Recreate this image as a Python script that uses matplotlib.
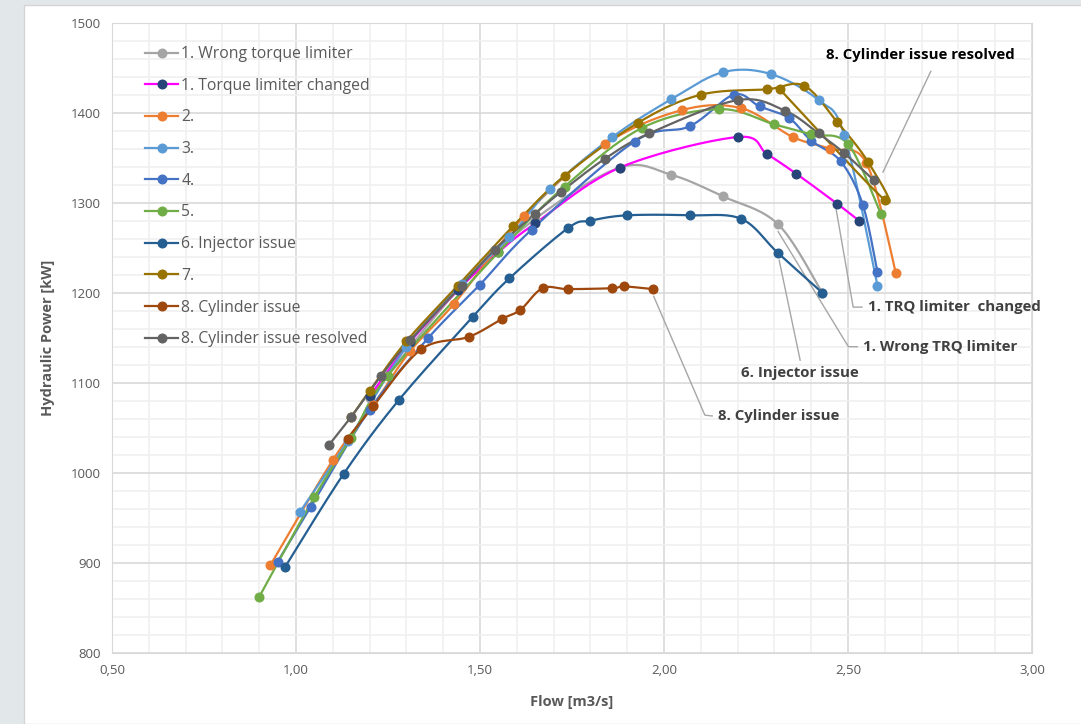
import numpy as np
import matplotlib.pyplot as plt
from matplotlib.lines import Line2D
from matplotlib.patches import Rectangle
from matplotlib.ticker import MultipleLocator, FuncFormatter

plt.rcParams['font.family'] = ['Open Sans', 'DejaVu Sans']

# data
wrong_x = [1.20, 1.44, 1.65, 1.88, 2.02, 2.16, 2.31, 2.43]
wrong_y = [1083, 1203, 1282, 1339, 1331, 1307, 1276, 1200]

changed_x = [1.20, 1.31, 1.44, 1.55, 1.65, 1.88, 2.20, 2.28, 2.36, 2.47, 2.53]
changed_y = [1085, 1145, 1203, 1245, 1277, 1339, 1373, 1354, 1332, 1299, 1280]

s2_x = [0.93, 1.10, 1.21, 1.31, 1.43, 1.62, 1.84, 2.05, 2.21, 2.35, 2.45, 2.55, 2.63]
s2_y = [897, 1014, 1075, 1135, 1188, 1285, 1365, 1403, 1405, 1373, 1360, 1344, 1222]

s3_x = [1.01, 1.14, 1.30, 1.45, 1.58, 1.69, 1.86, 2.02, 2.16, 2.29, 2.42, 2.49, 2.58]
s3_y = [956, 1035, 1140, 1210, 1262, 1315, 1373, 1415, 1445, 1443, 1414, 1375, 1208]

s4_x = [0.95, 1.04, 1.20, 1.36, 1.50, 1.64, 1.92, 2.07, 2.19, 2.26, 2.34, 2.40, 2.48, 2.54, 2.58]
s4_y = [901, 962, 1070, 1150, 1209, 1270, 1368, 1385, 1420, 1407, 1394, 1369, 1346, 1298, 1223]

s5_x = [0.90, 1.05, 1.15, 1.25, 1.55, 1.73, 1.94, 2.15, 2.30, 2.40, 2.50, 2.59]
s5_y = [862, 973, 1039, 1108, 1245, 1318, 1383, 1404, 1387, 1376, 1365, 1287]

injector_x = [0.97, 1.13, 1.28, 1.48, 1.58, 1.74, 1.80, 1.90, 2.07, 2.21, 2.31, 2.43]
injector_y = [895, 999, 1081, 1173, 1216, 1272, 1280, 1286, 1286, 1282, 1244, 1200]

s7_x = [1.15, 1.20, 1.30, 1.44, 1.59, 1.73, 1.93, 2.10, 2.28, 2.38, 2.47, 2.555, 2.60, 2.315]
s7_y = [1062, 1091, 1146, 1208, 1274, 1330, 1389, 1420, 1426, 1430, 1390, 1345, 1303, 1426]

cyl_x = [1.14, 1.21, 1.34, 1.47, 1.56, 1.61, 1.67, 1.74, 1.86, 1.89, 1.97]
cyl_y = [1038, 1074, 1137, 1151, 1171, 1181, 1205, 1204, 1205, 1207, 1204]

resolved_x = [1.09, 1.15, 1.23, 1.31, 1.45, 1.54, 1.65, 1.72, 1.84, 1.96, 2.20, 2.33, 2.42, 2.49, 2.57]
resolved_y = [1031, 1062, 1107, 1147, 1208, 1248, 1288, 1312, 1349, 1377, 1414, 1402, 1377, 1355, 1325]

series = [
    ('1. Wrong torque limiter', wrong_x, wrong_y, '#a5a5a5', '#a5a5a5'),
    ('1. Torque limiter changed', changed_x, changed_y, '#ff00ff', '#264478'),
    ('2.', s2_x, s2_y, '#ed7d31', '#ed7d31'),
    ('3.', s3_x, s3_y, '#5b9bd5', '#5b9bd5'),
    ('4.', s4_x, s4_y, '#4472c4', '#4472c4'),
    ('5.', s5_x, s5_y, '#70ad47', '#70ad47'),
    ('6. Injector issue', injector_x, injector_y, '#255e91', '#255e91'),
    ('7.', s7_x, s7_y, '#997300', '#997300'),
    ('8. Cylinder issue', cyl_x, cyl_y, '#9e480e', '#9e480e'),
    ('8. Cylinder issue resolved', resolved_x, resolved_y, '#636363', '#636363'),
]

# callouts: text, marker point, elbow, text position
callouts = [
    ('8. Cylinder issue resolved', (2.595, 1334), (2.725, 1446), (2.697, 1464), 'center', '#000000'),
    ('1. TRQ limiter  changed', (2.468, 1292), (2.514, 1184), (2.554, 1184), 'left', '#404040'),
    ('1. Wrong TRQ limiter', (2.310, 1268), (2.501, 1140), (2.541, 1140), 'left', '#404040'),
    ('6. Injector issue', (2.313, 1236), (2.370, 1125), (2.370, 1111), 'center', '#404040'),
    ('8. Cylinder issue', (1.972, 1196), (2.111, 1064), (2.147, 1063), 'left', '#404040'),
]


def smooth(xs, ys, n=20):
    # excel-like smoothed line (bezier through the points)
    p = np.column_stack([xs, ys]).astype(float)
    out = [p[0]]
    for i in range(len(p) - 1):
        p0 = p[i - 1] if i > 0 else p[i]
        p1 = p[i]
        p2 = p[i + 1]
        p3 = p[i + 2] if i + 2 < len(p) else p[i + 1]
        c1 = p1 + (p2 - p0) / 6.0
        c2 = p2 - (p3 - p1) / 6.0
        t = np.linspace(0, 1, n)[1:, None]
        seg = ((1 - t) ** 3 * p1 + 3 * (1 - t) ** 2 * t * c1
               + 3 * (1 - t) * t ** 2 * c2 + t ** 3 * p2)
        out.extend(seg)
    out = np.array(out)
    return out[:, 0], out[:, 1]


fig = plt.figure(figsize=(10.81, 7.24), dpi=100, facecolor='#e2e7ea')
fig.patches.append(Rectangle((24 / 1081, 0), 1, 1 - 5 / 724, transform=fig.transFigure,
                             facecolor='white', edgecolor='#d4d4d4', lw=1, zorder=-1))
ax = fig.add_axes([112 / 1081, 1 - 652.7 / 724, 920 / 1081, 630 / 724])
ax.set_facecolor('white')

handles = []
for label, xs, ys, lc, mc in series:
    sx, sy = smooth(xs, ys)
    ax.plot(sx, sy, color=lc, lw=1.6, zorder=3)
    ax.plot(xs, ys, 'o', color=mc, ms=6.2, zorder=4)
    handles.append(Line2D([], [], color=lc, lw=1.6, marker='o', ms=6.2,
                          markerfacecolor=mc, markeredgecolor=mc, label=label))

for text, pt, elbow, tpos, ha, tc in callouts:
    if ha == 'left':
        ax.plot([pt[0], elbow[0], tpos[0] - 0.016], [pt[1], elbow[1], tpos[1]],
                color='#a6a6a6', lw=1, zorder=2)
    else:
        ax.plot([pt[0], elbow[0]], [pt[1], elbow[1]], color='#a6a6a6', lw=1, zorder=2)
    ax.text(tpos[0], tpos[1], text, ha=ha, va='center', fontsize=10.8,
            fontweight='bold', color=tc, zorder=5)

ax.set_xlim(0.5, 3.0)
ax.set_ylim(800, 1500)
ax.xaxis.set_major_locator(MultipleLocator(0.5))
ax.xaxis.set_minor_locator(MultipleLocator(0.1))
ax.yaxis.set_major_locator(MultipleLocator(100))
ax.yaxis.set_minor_locator(MultipleLocator(20))
ax.xaxis.set_major_formatter(FuncFormatter(lambda v, p: f'{v:.2f}'.replace('.', ',')))
ax.grid(which='major', color='#d9d9d9', lw=1.2, zorder=0)
ax.grid(which='minor', color='#f0f0f0', lw=1.2, zorder=0)
ax.set_axisbelow(True)
for s in ax.spines.values():
    s.set_color('#d9d9d9')
ax.tick_params(which='both', length=0, labelsize=9.5, labelcolor='#595959', pad=8)

ax.set_xlabel('Flow [m3/s]', fontsize=10.5, fontweight='bold', color='#595959')
ax.set_ylabel('Hydraulic Power [kW]', fontsize=10.5, fontweight='bold', color='#595959')
ax.xaxis.set_label_coords(0.5, -0.067)
ax.yaxis.set_label_coords(-0.062, 0.5)

ax.legend(handles=handles, loc='upper left', bbox_to_anchor=(0.036, 0.963), frameon=False,
          fontsize=11.3, labelcolor='#595959', handlelength=2.1, handletextpad=0.2,
          labelspacing=1.0, borderpad=0, borderaxespad=0)

fig.savefig('out.png', dpi=100, facecolor=fig.get_facecolor())
